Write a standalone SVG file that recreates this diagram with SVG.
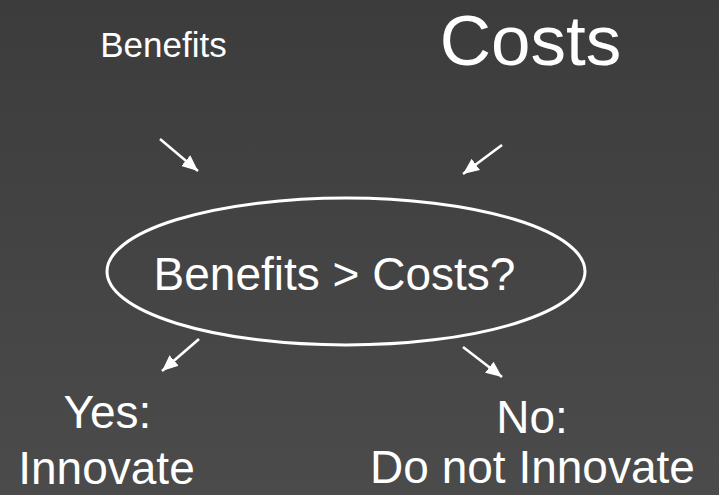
<svg xmlns="http://www.w3.org/2000/svg" width="719" height="495" viewBox="0 0 719 495">
<defs>
<linearGradient id="bg" x1="0" y1="0" x2="0" y2="1">
<stop offset="0" stop-color="#3c3c3c"/>
<stop offset="1" stop-color="#4b4b4b"/>
</linearGradient>
<marker id="ah" markerUnits="userSpaceOnUse" markerWidth="18" markerHeight="16" refX="16" refY="7" orient="auto" viewBox="0 0 18 14">
<path d="M0,0 L16,7 L0,14 Z" fill="#ffffff"/>
</marker>
<style>
text{font-family:"Liberation Sans",Arial,sans-serif;fill:#ffffff;text-anchor:middle}
.arrow{stroke:#ffffff;stroke-width:2.6;fill:none;marker-end:url(#ah)}
</style>
</defs>
<rect width="719" height="495" fill="url(#bg)"/>
<g id="benefits"><text x="163.5" y="57" font-size="35">Benefits</text></g>
<g id="costs"><text x="530.5" y="65" font-size="71">Costs</text></g>
<g id="decision">
<ellipse cx="346" cy="271.5" rx="239" ry="73.5" fill="none" stroke="#ffffff" stroke-width="3"/>
<text x="334.5" y="290" font-size="46">Benefits &gt; Costs?</text>
</g>
<g id="yes"><text x="107.5" y="428" font-size="46">Yes:</text><text x="106.5" y="484" font-size="46">Innovate</text></g>
<g id="no"><text x="532" y="433" font-size="46">No:</text><text x="532.5" y="483" font-size="46">Do not Innovate</text></g>
<g id="connectors">
<line class="arrow" x1="160" y1="139" x2="198" y2="171"/>
<line class="arrow" x1="502" y1="145" x2="463" y2="174"/>
<line class="arrow" x1="199" y1="339" x2="162" y2="371"/>
<line class="arrow" x1="463" y1="347" x2="502" y2="377"/>
</g>
</svg>
